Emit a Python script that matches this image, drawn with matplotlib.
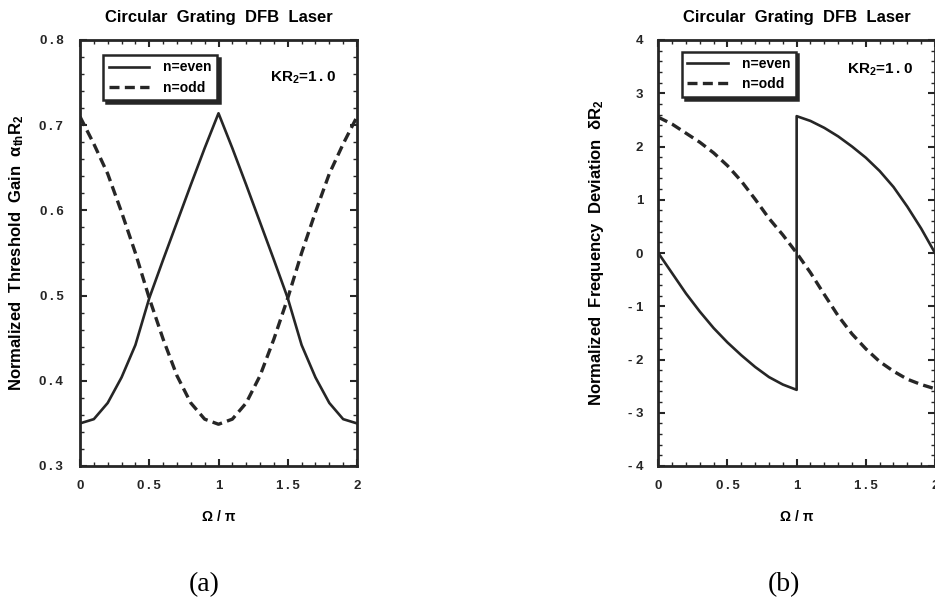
"""Circular grating DFB laser: threshold gain and frequency deviation vs. Omega/pi."""

import matplotlib
matplotlib.use("Agg")
import matplotlib.pyplot as plt
from matplotlib.ticker import MultipleLocator

# ---- data ----
omega = [0.0, 0.1, 0.2, 0.3, 0.4, 0.5, 0.6, 0.7, 0.8, 0.9, 1.0,
         1.1, 1.2, 1.3, 1.4, 1.5, 1.6, 1.7, 1.8, 1.9, 2.0]

gain_even = [0.350, 0.355, 0.374, 0.404, 0.442, 0.497, 0.542, 0.586, 0.630, 0.673, 0.714,
             0.673, 0.630, 0.586, 0.542, 0.497, 0.442, 0.404, 0.374, 0.355, 0.350]
gain_odd = [0.710, 0.678, 0.643, 0.598, 0.550, 0.497, 0.449, 0.406, 0.374, 0.355, 0.349,
            0.355, 0.374, 0.406, 0.449, 0.497, 0.550, 0.598, 0.643, 0.678, 0.710]

# even mode has a jump at Omega/pi = 1, so x=1 appears twice
omega_even = [0.0, 0.1, 0.2, 0.3, 0.4, 0.5, 0.6, 0.7, 0.8, 0.9, 1.0,
              1.0, 1.1, 1.2, 1.3, 1.4, 1.5, 1.6, 1.7, 1.8, 1.9, 2.0]
freq_even = [0.0, -0.38, -0.76, -1.10, -1.41, -1.68, -1.92, -2.14, -2.33, -2.47, -2.57,
             2.57, 2.48, 2.35, 2.19, 2.00, 1.79, 1.54, 1.24, 0.87, 0.46, 0.0]
freq_odd = [2.55, 2.42, 2.25, 2.08, 1.88, 1.64, 1.35, 1.01, 0.65, 0.34, 0.0,
            -0.37, -0.78, -1.18, -1.52, -1.80, -2.04, -2.22, -2.37, -2.47, -2.55]

x_ticks = [0, 0.5, 1, 1.5, 2]
x_ticklabels = ["0", "0\u2009.\u20095", "1", "1\u2009.\u20095", "2"]
gain_ticks = [0.3, 0.4, 0.5, 0.6, 0.7, 0.8]
gain_ticklabels = ["0\u2009.\u20093", "0\u2009.\u20094", "0\u2009.\u20095",
                   "0\u2009.\u20096", "0\u2009.\u20097", "0\u2009.\u20098"]
freq_ticks = [-4, -3, -2, -1, 0, 1, 2, 3, 4]
freq_ticklabels = ["- 4", "- 3", "- 2", "- 1", "0", "1", "2", "3", "4"]

plt.rcParams["font.family"] = ["Liberation Sans", "DejaVu Sans"]
plt.rcParams["font.weight"] = "bold"
plt.rcParams["mathtext.default"] = "regular"

INK = "#262626"
fig = plt.figure(figsize=(9.35, 6.02), dpi=100)
ax_a = fig.add_axes([80 / 935, 136 / 602, 277 / 935, 426 / 602])
ax_b = fig.add_axes([658.3 / 935, 136 / 602, 276.7 / 935, 426 / 602])


def style_axes(ax, yticks, yticklabels, yminor):
    ax.set_xlim(0, 2)
    ax.set_xticks(x_ticks)
    ax.set_xticklabels(x_ticklabels)
    ax.xaxis.set_minor_locator(MultipleLocator(0.1))
    ax.set_ylim(yticks[0], yticks[-1])
    ax.set_yticks(yticks)
    ax.set_yticklabels(yticklabels)
    ax.yaxis.set_minor_locator(MultipleLocator(yminor))
    ax.tick_params(which="both", direction="in", top=True, right=True,
                   colors=INK, labelsize=9.5)
    ax.tick_params(which="major", length=5, width=1.5)
    ax.tick_params(which="minor", length=3, width=1.0)
    ax.tick_params(axis="x", pad=10)
    for s in ax.spines.values():
        s.set_linewidth(2.0)
        s.set_color(INK)
    ax.set_title("Circular  Grating  DFB  Laser", fontsize=12,
                 fontweight="bold", pad=13)
    ax.set_xlabel("Ω / π", fontsize=10, fontweight="bold", labelpad=13)


def add_legend(ax, x, y):
    leg = ax.legend(loc="upper left", bbox_to_anchor=(x, y), borderaxespad=0,
                    fontsize=10, handlelength=2.9, handletextpad=1.0,
                    labelspacing=0.45, borderpad=0.4, fancybox=False,
                    framealpha=1, edgecolor=INK,
                    shadow={"color": INK, "alpha": 1})
    leg.get_frame().set_linewidth(1.8)


# (a) threshold gain
ax_a.plot(omega, gain_even, color=INK, lw=1.9, label="n=even")
ax_a.plot(omega, gain_odd, color=INK, lw=2.4, ls=(0, (3, 1.6)), label="n=odd")
style_axes(ax_a, gain_ticks, gain_ticklabels, 0.02)
ax_a.tick_params(axis="y", pad=12)
ax_a.set_ylabel("Normalized  Threshold  Gain  α$_{th}$R$_2$",
                fontsize=12, fontweight="bold")
ax_a.yaxis.set_label_coords(-0.195, 0.50)
add_legend(ax_a, 0.083, 0.965)
ax_a.text(0.686, 0.911, "KR$_2$=1\u2009.\u20090", transform=ax_a.transAxes,
          fontsize=11, fontweight="bold", va="center", ha="left")

# (b) frequency deviation
ax_b.plot(omega_even, freq_even, color=INK, lw=1.9, label="n=even")
ax_b.plot(omega, freq_odd, color=INK, lw=2.4, ls=(0, (3, 1.6)), label="n=odd")
style_axes(ax_b, freq_ticks, freq_ticklabels, 0.2)
ax_b.tick_params(axis="y", pad=11)
ax_b.set_ylabel("Normalized  Frequency  Deviation  δR$_2$",
                fontsize=12, fontweight="bold")
ax_b.yaxis.set_label_coords(-0.19, 0.50)
add_legend(ax_b, 0.085, 0.973)
ax_b.text(0.681, 0.93, "KR$_{ 2}$=1\u2009.\u20090", transform=ax_b.transAxes,
          fontsize=11, fontweight="bold", va="center", ha="left")

fig.text(204 / 935, 1 - 585 / 602, "(a)", fontsize=20, fontweight="normal",
         family="Liberation Serif", ha="center", va="center")
fig.text(784 / 935, 1 - 585 / 602, "(b)", fontsize=20, fontweight="normal",
         family="Liberation Serif", ha="center", va="center")

fig.savefig("out.png", dpi=100)
